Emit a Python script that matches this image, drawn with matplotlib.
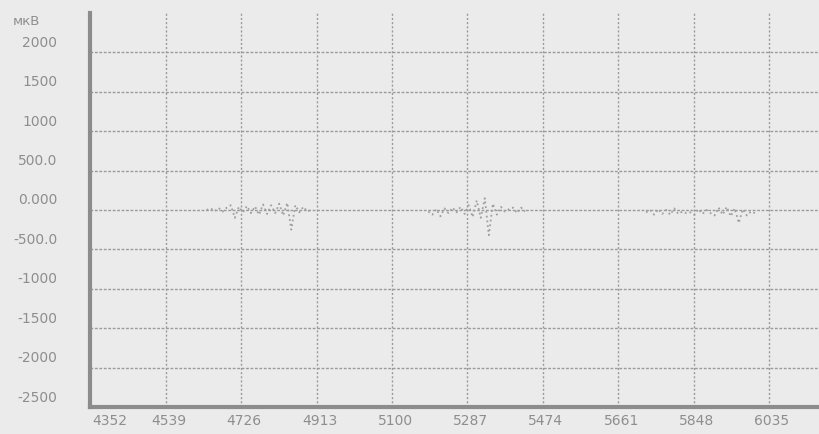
import matplotlib.pyplot as plt
from matplotlib.transforms import ScaledTranslation

# шкалы
x_ticks = [4352, 4539, 4726, 4913, 5100, 5287, 5474, 5661, 5848, 6035]
y_ticks = [-2500, -2000, -1500, -1000, -500, 0, 500, 1000, 1500, 2000]
y_labels = ['-2500', '-2000', '-1500', '-1000', '-500.0', '0.000',
            '500.0', '1000', '1500', '2000']

# участки сигнала, мкВ
t1 = [4640, 4650, 4660, 4670, 4680, 4690, 4700, 4710, 4720, 4730,
      4740, 4750, 4760, 4770, 4780, 4790, 4800, 4810, 4820, 4830,
      4840, 4850, 4860, 4870, 4880, 4890, 4900]
v1 = [0, 20, -15, 25, -20, 30, 60, -100, 40, -30,
      50, -40, 45, -60, 70, -50, 60, -40, 80, -70,
      90, -250, 60, -30, 40, -20, 10]

t2 = [5190, 5200, 5210, 5220, 5230, 5240, 5250, 5260, 5270, 5280,
      5290, 5300, 5310, 5320, 5330, 5340, 5350, 5360, 5370, 5380,
      5390, 5400, 5410, 5420, 5430]
v2 = [-20, -60, 10, -80, 20, -40, 30, -30, 40, -50,
      60, -90, 120, -100, 150, -320, 80, -60, 40, -20,
      10, 30, -40, 30, -20]

t3 = [5730, 5740, 5750, 5760, 5770, 5780, 5790, 5800, 5810, 5820,
      5830, 5840, 5850, 5860, 5870, 5880, 5890, 5900, 5910, 5920,
      5930, 5940, 5950, 5960, 5970, 5980, 5990, 6000]
v3 = [-30, 0, -60, 10, -50, 0, -60, 20, -50, -20,
      -40, -30, -60, 10, -50, 0, -40, -70, 30, -60,
      40, -80, 20, -165, 10, -70, -20, -40]

bg = '#ebebeb'
fig = plt.figure(figsize=(8.19, 4.34), dpi=100, facecolor=bg)
ax = fig.add_axes([0.1105, 0.0622, 0.9097, 0.908], facecolor=bg)

for t, v in [(t1, v1), (t2, v2), (t3, v3)]:
    ax.plot(t, v, color='#a0a0a0', lw=1.3, ls=':')

ax.set_xlim(4352, 6200)
ax.set_ylim(-2500, 2500)

# сетка
for x in x_ticks[1:]:
    ax.axvline(x, color='#9a9a9a', lw=1, ls=(0, (1.5, 1.5)), zorder=0)
for y in y_ticks[1:]:
    ax.axhline(y, color='#9a9a9a', lw=1, ls=(0, (2, 1.2)), zorder=0)

for s in ['top', 'right']:
    ax.spines[s].set_visible(False)
for s in ['left', 'bottom']:
    ax.spines[s].set_linewidth(3)
    ax.spines[s].set_color('#8c8c8c')

ax.set_xticks(x_ticks)
ax.set_xticklabels([str(x) for x in x_ticks])
ax.set_yticks(y_ticks)
ax.set_yticklabels(y_labels)
ax.tick_params(length=0, labelsize=10, labelcolor='#8e8e8e')
ax.tick_params(axis='y', pad=24)
ax.tick_params(axis='x', pad=5)

for lab in ax.get_yticklabels():
    lab.set_transform(lab.get_transform() + ScaledTranslation(0, 0.11, fig.dpi_scale_trans))
for i, lab in enumerate(ax.get_xticklabels()):
    dx = 0.19 if i == 0 else 0.03
    lab.set_transform(lab.get_transform() + ScaledTranslation(dx, 0, fig.dpi_scale_trans))

fig.text(0.016, 0.942, 'мкВ', fontsize=9.5, color='#8e8e8e')

fig.savefig('out.png', dpi=100, facecolor=bg)
